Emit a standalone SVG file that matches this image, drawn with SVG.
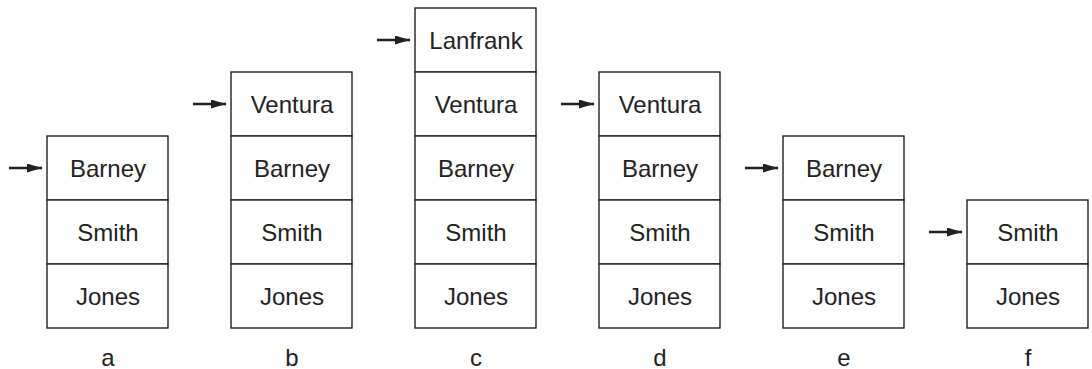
<svg xmlns="http://www.w3.org/2000/svg" width="1092" height="369" viewBox="0 0 1092 369">
<style>
.cell{fill:#fff;stroke:#222;stroke-width:1.4}
.t{font-family:"Liberation Sans",Arial,sans-serif;font-size:24px;fill:#222;text-anchor:middle}
.ar{stroke:#222;stroke-width:2.4;fill:none}
</style>
<defs>
<marker id="ah" markerUnits="userSpaceOnUse" markerWidth="16" markerHeight="10" refX="15" refY="4.5" orient="auto">
<path d="M0,0 L15,4.5 L0,9 Z" fill="#222"/>
</marker>
</defs>
<rect width="1092" height="369" fill="#fff"/>
<g id="stack-a">
<rect class="cell" x="47" y="136" width="121" height="64"/><text class="t" x="108" y="177">Barney</text>
<rect class="cell" x="47" y="200" width="121" height="64"/><text class="t" x="108" y="241">Smith</text>
<rect class="cell" x="47" y="264" width="121" height="64"/><text class="t" x="108" y="305">Jones</text>
<text class="t" x="108" y="366">a</text>
</g>
<g id="stack-b">
<rect class="cell" x="231" y="72" width="121" height="64"/><text class="t" x="292" y="113">Ventura</text>
<rect class="cell" x="231" y="136" width="121" height="64"/><text class="t" x="292" y="177">Barney</text>
<rect class="cell" x="231" y="200" width="121" height="64"/><text class="t" x="292" y="241">Smith</text>
<rect class="cell" x="231" y="264" width="121" height="64"/><text class="t" x="292" y="305">Jones</text>
<text class="t" x="292" y="366">b</text>
</g>
<g id="stack-c">
<rect class="cell" x="415" y="8" width="121" height="64"/><text class="t" x="476" y="49">Lanfrank</text>
<rect class="cell" x="415" y="72" width="121" height="64"/><text class="t" x="476" y="113">Ventura</text>
<rect class="cell" x="415" y="136" width="121" height="64"/><text class="t" x="476" y="177">Barney</text>
<rect class="cell" x="415" y="200" width="121" height="64"/><text class="t" x="476" y="241">Smith</text>
<rect class="cell" x="415" y="264" width="121" height="64"/><text class="t" x="476" y="305">Jones</text>
<text class="t" x="476" y="366">c</text>
</g>
<g id="stack-d">
<rect class="cell" x="599" y="72" width="121" height="64"/><text class="t" x="660" y="113">Ventura</text>
<rect class="cell" x="599" y="136" width="121" height="64"/><text class="t" x="660" y="177">Barney</text>
<rect class="cell" x="599" y="200" width="121" height="64"/><text class="t" x="660" y="241">Smith</text>
<rect class="cell" x="599" y="264" width="121" height="64"/><text class="t" x="660" y="305">Jones</text>
<text class="t" x="660" y="366">d</text>
</g>
<g id="stack-e">
<rect class="cell" x="783" y="136" width="121" height="64"/><text class="t" x="844" y="177">Barney</text>
<rect class="cell" x="783" y="200" width="121" height="64"/><text class="t" x="844" y="241">Smith</text>
<rect class="cell" x="783" y="264" width="121" height="64"/><text class="t" x="844" y="305">Jones</text>
<text class="t" x="844" y="366">e</text>
</g>
<g id="stack-f">
<rect class="cell" x="967" y="200" width="121" height="64"/><text class="t" x="1028" y="241">Smith</text>
<rect class="cell" x="967" y="264" width="121" height="64"/><text class="t" x="1028" y="305">Jones</text>
<text class="t" x="1028" y="366">f</text>
</g>
<g id="connectors">
<line class="ar" x1="9" y1="168" x2="42" y2="168" marker-end="url(#ah)"/>
<line class="ar" x1="193" y1="104" x2="226" y2="104" marker-end="url(#ah)"/>
<line class="ar" x1="377" y1="40" x2="410" y2="40" marker-end="url(#ah)"/>
<line class="ar" x1="561" y1="104" x2="594" y2="104" marker-end="url(#ah)"/>
<line class="ar" x1="745" y1="168" x2="778" y2="168" marker-end="url(#ah)"/>
<line class="ar" x1="929" y1="232" x2="962" y2="232" marker-end="url(#ah)"/>
</g>
</svg>
